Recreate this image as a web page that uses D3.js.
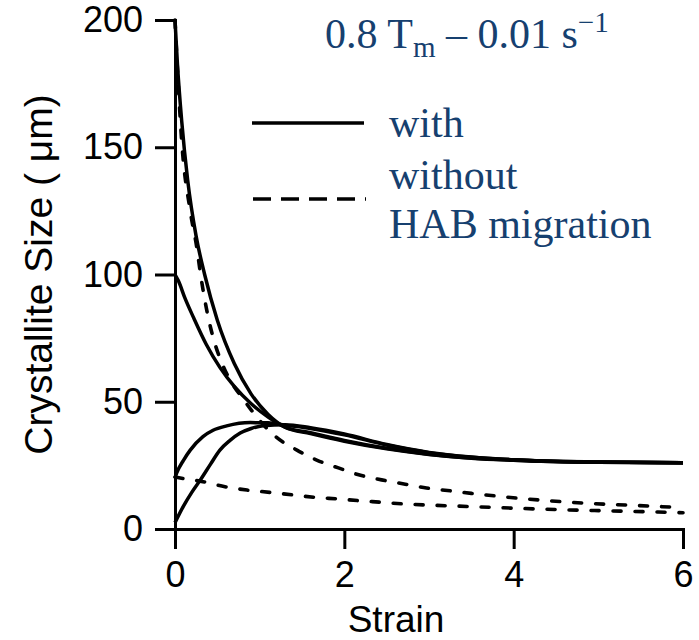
<!DOCTYPE html>
<html>
<head>
<meta charset="utf-8">
<script src="https://cdn.jsdelivr.net/npm/d3@7/dist/d3.min.js"></script>
<style>
  body { margin: 0; background: #fff; }
  svg { display: block; }
</style>
</head>
<body>
<svg id="chart" width="699" height="640"></svg>
<script>
// ---- data (strain, crystallite size in µm) ----
const xTicks = [0, 2, 4, 6];
const yTicks = [0, 50, 100, 150, 200];

// "with HAB migration" (solid)
const with200 = [[0,200],[0.03,182],[0.08,160],[0.15,137],[0.25,115],[0.35,100],[0.5,82],[0.7,65],[0.9,53],[1.1,45],[1.3,40],[1.6,37.5],[2,34.5],[2.5,31.5],[3,29.3],[3.5,27.8],[4,27],[5,26.2],[6,26]];
const with100 = [[0,100],[0.04,97.5],[0.12,90.5],[0.22,83],[0.37,72.5],[0.53,63.5],[0.7,56],[0.9,49.2],[1.1,44],[1.3,40],[1.6,37.8],[2,34.8],[2.5,31.7],[3,29.4],[3.5,27.9],[4,27],[5,26.2],[6,26]];
const with20 = [[0,20],[0.02,22],[0.1,27],[0.18,31],[0.33,36.3],[0.45,38.8],[0.61,40.5],[0.89,41.8],[1.1,41.7],[1.3,40.8],[1.6,39.5],[2,37],[2.5,33],[3,30],[3.5,28.2],[4,27.2],[5,26.3],[6,26]];
const with2 = [[0,2.5],[0.1,9],[0.2,14.5],[0.3,19.3],[0.42,25.5],[0.53,31],[0.65,34.8],[0.77,37.7],[0.9,39.5],[1.04,40.6],[1.3,41],[1.6,39.8],[2,37.3],[2.5,33.2],[3,30.1],[3.5,28.3],[4,27.2],[5,26.3],[6,26]];

// "without HAB migration" (dashed)
const without200 = [[0,200],[0.03,180],[0.08,152],[0.18,125],[0.26,110],[0.3,100.5],[0.4,82],[0.47,73],[0.57,64],[0.84,49.5],[1.2,36],[1.44,31],[1.68,27],[1.93,24],[2.18,21.2],[2.44,19.3],[2.72,17.6],[2.97,16.1],[3.25,15],[3.5,14],[3.78,13],[4.05,12.1],[4.3,11.4],[4.58,10.7],[4.86,10.1],[5.4,9.3],[6,8.4]];
const without20 = [[0,20.4],[0.1,19.8],[0.33,18.6],[0.59,16.6],[0.85,15.3],[1.12,14.4],[1.39,13.4],[1.67,12.4],[1.93,11.8],[2.18,11.1],[2.44,10.5],[2.72,9.8],[3,9.4],[3.5,8.8],[4.07,8.1],[4.63,7.5],[5.17,7.1],[6,6.4]];

const solidSeries = [with200, with100, with20, with2];
const dashedSeries = [without200, without20];

// ---- layout ----
const svg = d3.select("#chart");
const x = d3.scaleLinear().domain([0, 6]).range([175, 683]);
const y = d3.scaleLinear().domain([0, 200]).range([529, 20]);

const line = d3.line()
  .x(d => x(d[0]))
  .y(d => y(d[1]))
  .curve(d3.curveMonotoneX);

// curves
svg.append("g").selectAll("path.solid")
  .data(solidSeries).join("path")
  .attr("class", "solid")
  .attr("d", line)
  .attr("fill", "none")
  .attr("stroke", "#000")
  .attr("stroke-width", 3.5)
  .attr("stroke-linejoin", "round");

svg.append("g").selectAll("path.dashed")
  .data(dashedSeries).join("path")
  .attr("class", "dashed")
  .attr("d", line)
  .attr("fill", "none")
  .attr("stroke", "#000")
  .attr("stroke-width", 3.6)
  .attr("stroke-linecap", "round")
  .attr("stroke-dasharray", "8,14");

// axes
const axisFont = "'Liberation Sans', Arial, Helvetica, sans-serif";
const xAxis = svg.append("g")
  .attr("transform", "translate(0,529)")
  .call(d3.axisBottom(x).tickValues(xTicks).tickFormat(d3.format("d")).tickSize(20).tickSizeOuter(0).tickPadding(12));
const yAxis = svg.append("g")
  .attr("transform", "translate(175,0)")
  .call(d3.axisLeft(y).tickValues(yTicks).tickFormat(d3.format("d")).tickSize(20).tickSizeOuter(0).tickPadding(12));

[xAxis, yAxis].forEach(g => {
  g.selectAll("path.domain").attr("stroke", "#000").attr("stroke-width", 3).attr("stroke-linecap", "square");
  g.selectAll(".tick line").attr("stroke", "#000").attr("stroke-width", 3);
  g.selectAll(".tick text")
    .attr("fill", "#000")
    .style("font-family", axisFont)
    .style("font-size", "36px");
});

// axis titles
svg.append("text")
  .attr("x", 396)
  .attr("y", 632)
  .attr("text-anchor", "middle")
  .style("font-family", axisFont)
  .style("font-size", "37px")
  .text("Strain");

svg.append("text")
  .attr("transform", "translate(52," + y(100) + ") rotate(-90)")
  .attr("text-anchor", "middle")
  .style("font-family", axisFont)
  .style("font-size", "39px")
  .text("Crystallite Size ( μm)");

// title
const serif = "'Liberation Serif', 'Times New Roman', Times, serif";
const blue = "#16406f";
const title = svg.append("text")
  .attr("x", 325)
  .attr("y", 48)
  .attr("fill", blue)
  .style("font-family", serif)
  .style("font-size", "42px");
title.append("tspan").text("0.8 T");
title.append("tspan").attr("dy", 9).style("font-size", "29px").text("m");
title.append("tspan").attr("dy", -9).text(" – 0.01 s");
title.append("tspan").attr("dy", -16).style("font-size", "29px").text("−1");

// legend
svg.append("line")
  .attr("x1", 252).attr("x2", 364).attr("y1", 123).attr("y2", 123)
  .attr("stroke", "#000").attr("stroke-width", 3.6);
svg.append("line")
  .attr("x1", 253).attr("x2", 366).attr("y1", 199).attr("y2", 199)
  .attr("stroke", "#000").attr("stroke-width", 3.6)
  .attr("stroke-dasharray", "18,10");

const legendLines = [["with", 137], ["without", 189], ["HAB migration", 238]];
svg.append("g").selectAll("text")
  .data(legendLines).join("text")
  .attr("x", 389)
  .attr("y", d => d[1])
  .attr("fill", blue)
  .style("font-family", serif)
  .style("font-size", "42px")
  .text(d => d[0]);
</script>
</body>
</html>
